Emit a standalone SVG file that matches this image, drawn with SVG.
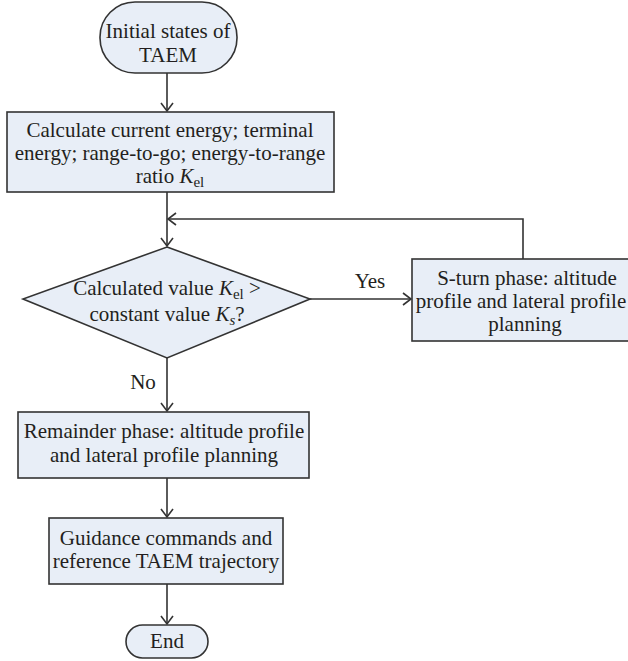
<svg xmlns="http://www.w3.org/2000/svg" width="628" height="661" viewBox="0 0 628 661">
<defs>
<style>
.box{fill:#e8eef7;stroke:#333;stroke-width:1.6}
.t{font-family:"Liberation Serif","Times New Roman",serif;font-size:21px;fill:#231f20;text-anchor:middle}
.l{fill:none;stroke:#333;stroke-width:1.6}
.i{font-style:italic}
.sub{font-size:15px}
</style>
<marker id="ah" markerWidth="14" markerHeight="14" refX="10" refY="7" orient="auto" markerUnits="userSpaceOnUse">
<path d="M2,1 L10,7 L2,13" fill="none" stroke="#333" stroke-width="1.6"/>
</marker>
</defs>
<rect width="628" height="661" fill="#fff"/>
<g id="connectors">
<line class="l" x1="167" y1="73" x2="167" y2="111" marker-end="url(#ah)"/>
<line class="l" x1="167" y1="192" x2="167" y2="246" marker-end="url(#ah)"/>
<polyline class="l" points="523,259 523,219 168,219" marker-end="url(#ah)"/>
<line class="l" x1="310" y1="299" x2="411" y2="299" marker-end="url(#ah)"/>
<line class="l" x1="167" y1="358" x2="167" y2="411" marker-end="url(#ah)"/>
<line class="l" x1="167" y1="478" x2="167" y2="517" marker-end="url(#ah)"/>
<line class="l" x1="167" y1="584" x2="167" y2="624" marker-end="url(#ah)"/>
<text class="t" x="370" y="288">Yes</text>
<text class="t" x="143" y="389">No</text>
</g>
<g id="start">
<rect class="box" x="100" y="2" width="137" height="71" rx="35" ry="35"/>
<text class="t" x="168" y="38">Initial states of</text>
<text class="t" x="168" y="62">TAEM</text>
</g>
<g id="calc">
<rect class="box" x="7" y="112" width="327" height="80"/>
<text class="t" x="170" y="137">Calculate current energy; terminal</text>
<text class="t" x="170" y="160">energy; range-to-go; energy-to-range</text>
<text class="t" x="170" y="183">ratio <tspan class="i">K</tspan><tspan class="sub" dy="4">el</tspan></text>
</g>
<g id="decision">
<polygon class="box" points="167,247 310,299 167,358 23,299"/>
<text class="t" x="167" y="295">Calculated value <tspan class="i">K</tspan><tspan class="sub" dy="4">el</tspan><tspan dy="-4"> &gt;</tspan></text>
<text class="t" x="167" y="321">constant value <tspan class="i">K</tspan><tspan class="sub i" dy="4">s</tspan><tspan dy="-4">?</tspan></text>
</g>
<g id="sturn">
<rect class="box" x="412" y="259" width="220" height="82"/>
<text class="t" x="527" y="285">S-turn phase: altitude</text>
<text class="t" x="521" y="308">profile and lateral profile</text>
<text class="t" x="525" y="331">planning</text>
</g>
<g id="remainder">
<rect class="box" x="18" y="412" width="291" height="66"/>
<text class="t" x="164" y="438">Remainder phase: altitude profile</text>
<text class="t" x="164" y="462">and lateral profile planning</text>
</g>
<g id="guidance">
<rect class="box" x="49" y="518" width="234" height="66"/>
<text class="t" x="166" y="545">Guidance commands and</text>
<text class="t" x="166" y="568">reference TAEM trajectory</text>
</g>
<g id="end">
<rect class="box" x="126" y="625" width="82" height="33" rx="16.5" ry="16.5"/>
<text class="t" x="167" y="648">End</text>
</g>
</svg>
